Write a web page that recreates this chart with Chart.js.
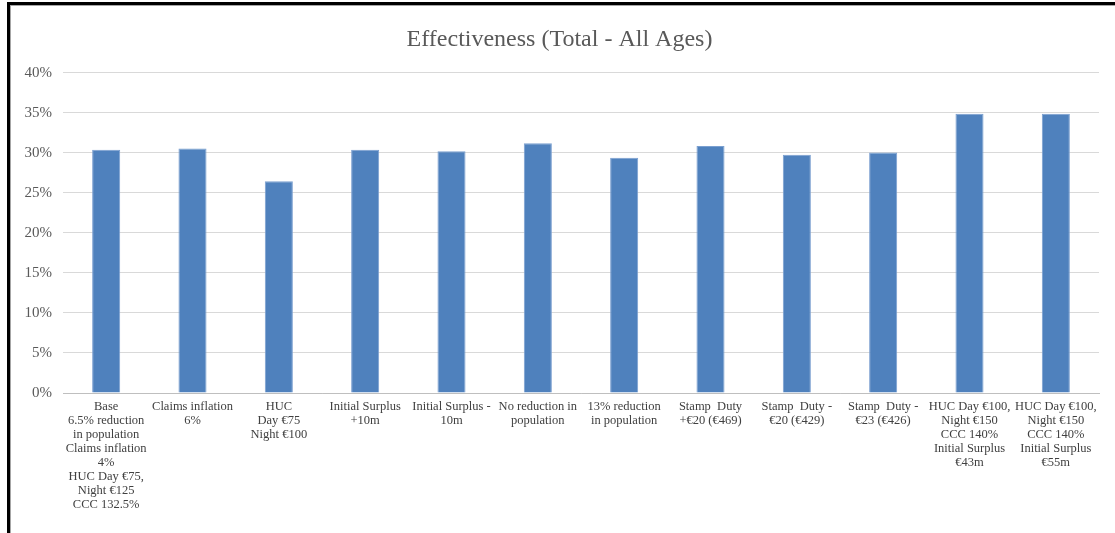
<!DOCTYPE html>
<html>
<head>
    <title>Effectiveness (Total - All Ages)</title>
    <script src="https://cdn.jsdelivr.net/npm/chart.js@4/dist/chart.umd.min.js"></script>
    <style>
        html, body { margin: 0; padding: 0; background: #fff; }
        #frame {
            position: absolute; left: 7px; top: 2px; width: 1108px; height: 531px;
            border-top: 3px solid #000; border-left: 3px solid #000;
            box-shadow: inset 1px 1px 0 #a6a6a6;
            box-sizing: border-box;
        }
        #canvas-holder { position: absolute; left: 0; top: 0; width: 1115px; height: 533px; }
    </style>
</head>

<body>
    <div id="frame"></div>
    <div id="canvas-holder">
        <canvas id="chart-area"></canvas>
    </div>

    <script>
		// scenarios along the x axis (one label line per array entry)
		var scenarios = [
			["Base", "6.5% reduction", "in population", "Claims inflation", "4%", "HUC Day €75,", "Night €125", "CCC 132.5%"],
			["Claims inflation", "6%"],
			["HUC", "Day €75", "Night €100"],
			["Initial Surplus", "+10m"],
			["Initial Surplus -", "10m"],
			["No reduction in", "population"],
			["13% reduction", "in population"],
			["Stamp  Duty", "+€20 (€469)"],
			["Stamp  Duty -", "€20 (€429)"],
			["Stamp  Duty -", "€23 (€426)"],
			["HUC Day €100,", "Night €150", "CCC 140%", "Initial Surplus", "€43m"],
			["HUC Day €100,", "Night €150", "CCC 140%", "Initial Surplus", "€55m"]
		];

		// effectiveness, in percent
		var effectiveness = [30.4, 30.55, 26.45, 30.4, 30.2, 31.2, 29.4, 30.85, 29.75, 30.05, 34.9, 34.9];

		var yTicks = [0, 5, 10, 15, 20, 25, 30, 35, 40];

		var serif = "'Liberation Serif', 'DejaVu Serif', serif";

		var config = {
			type: 'bar',
			data: {
				labels: scenarios,
				datasets: [{
					label: 'Effectiveness',
					data: effectiveness,
					backgroundColor: '#4F81BD',
					borderColor: '#7A9FD0',
					borderWidth: 1,
					barPercentage: 0.325,
					categoryPercentage: 1
				}]
			},
			options: {
				responsive: true,
				maintainAspectRatio: false,
				animation: false,
				layout: {
					padding: { left: 20, right: 16, top: 0, bottom: 0 }
				},
				plugins: {
					legend: { display: false },
					tooltip: { enabled: false },
					title: {
						display: true,
						text: 'Effectiveness (Total - All Ages)',
						color: '#595959',
						font: { family: serif, size: 24, weight: 'normal', lineHeight: 1.2 },
						padding: { top: 25, bottom: 19 }
					}
				},
				scales: {
					x: {
						grid: { display: false, drawTicks: false },
						border: { display: true, color: '#BFBFBF', width: 1 },
						ticks: {
							color: '#404040',
							font: { family: serif, size: 12.5, lineHeight: 1.12 },
							padding: 7,
							maxRotation: 0,
							minRotation: 0,
							autoSkip: false
						},
						afterFit: function(scale) { scale.height = 140; }
					},
					y: {
						min: 0,
						max: 40,
						afterBuildTicks: function(scale) {
							scale.ticks = yTicks.map(function(v) { return { value: v }; });
						},
						grid: { color: '#D9D9D9', lineWidth: 1, drawTicks: false },
						border: { display: false },
						ticks: {
							color: '#595959',
							font: { family: serif, size: 15 },
							padding: 11,
							callback: function(v) { return v + '%'; }
						},
						afterFit: function(scale) { scale.width = 43; }
					}
				}
			}
		};

		window.onload = function() {
			var ctx = document.getElementById('chart-area').getContext('2d');
			window.myBar = new Chart(ctx, config);
		};
    </script>
</body>
</html>
